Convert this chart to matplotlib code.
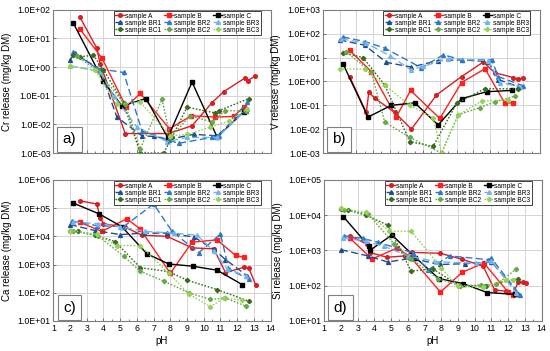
import matplotlib
matplotlib.use("Agg")
import matplotlib.pyplot as plt
from matplotlib.ticker import FixedLocator, FuncFormatter, NullLocator

plt.rcParams["font.family"] = ["Liberation Sans", "DejaVu Sans"]

SAMPLES = ["sample A", "sample B", "sample C",
           "sample BR1", "sample BR2", "sample BR3",
           "sample BC1", "sample BC2", "sample BC3"]

# ---- a) Cr release ----
cr_ph_A = [2.6, 3.6, 3.8, 5.3, 7.9, 9.3, 10.5, 11.2, 12.45, 12.65, 13.05]
cr_A = [54, 4.6, 1.3, 0.0048, 0.0048, 0.009, 0.058, 0.14, 0.41, 0.34, 0.48]
cr_ph_B = [2.6, 3.9, 5.35, 6.2, 7.95, 9.25, 10.7, 11.8, 12.4]
cr_B = [21, 2.1, 0.041, 0.12, 0.007, 0.02, 0.018, 0.019, 0.041]
cr_ph_C = [2.2, 4.0, 5.1, 6.55, 7.85, 9.3, 10.8, 12.4]
cr_C = [34, 0.32, 0.044, 0.08, 0.0034, 0.3, 0.0036, 0.028]
cr_ph_BR1 = [2.0, 2.3, 3.8, 4.8, 6.3, 7.0, 7.9, 9.4, 10.8, 12.5]
cr_BR1 = [1.8, 3.0, 0.8, 0.018, 0.004, 0.0038, 0.003, 0.0045, 0.004, 0.03]
cr_ph_BR2 = [2.2, 3.6, 5.2, 6.3, 7.9, 8.5, 10.5, 10.9, 12.6]
cr_BR2 = [3.4, 0.9, 0.65, 0.006, 0.0028, 0.0022, 0.0035, 0.0038, 0.06]
cr_ph_BR3 = [2.0, 3.8, 4.6, 6.0, 7.8, 9.0, 10.8, 12.6]
cr_BR3 = [1.1, 0.7, 0.1, 0.008, 0.0025, 0.0035, 0.0035, 0.035]
cr_ph_BC1 = [2.2, 2.6, 3.4, 4.0, 5.2, 6.2, 7.6, 8.1, 9.0, 10.7, 10.9, 12.7]
cr_BC1 = [2.6, 2.3, 2.6, 0.8, 0.055, 0.001, 0.001, 0.0036, 0.04, 0.025, 0.03, 0.08]
cr_ph_BC2 = [2.4, 3.6, 5.3, 6.2, 7.5, 8.0, 9.2, 10.5, 11.3, 12.5]
cr_BC2 = [2.4, 0.8, 0.05, 0.0014, 0.075, 0.0035, 0.02, 0.012, 0.03, 0.03]
cr_ph_BC3 = [2.0, 3.5, 4.8, 6.2, 8.0, 9.0, 10.4, 11.5, 12.6]
cr_BC3 = [1.1, 0.8, 0.05, 0.06, 0.004, 0.0045, 0.008, 0.013, 0.035]

# ---- b) V release ----
v_ph_A = [2.6, 3.6, 3.75, 4.1, 5.3, 6.3, 7.8, 9.3, 10.6, 11.3, 12.4, 12.7, 13.0]
v_A = [1.6, 0.05, 0.35, 0.2, 0.05, 0.01, 0.27, 1.6, 6.5, 2.3, 1.45, 1.25, 1.4]
v_ph_B = [2.6, 3.9, 5.4, 6.25, 8.0, 9.3, 10.7, 11.9, 12.4]
v_B = [20, 2.6, 0.033, 0.42, 0.028, 0.9, 3.4, 0.12, 0.13]
v_ph_C = [2.2, 3.7, 5.1, 6.5, 7.9, 9.3, 10.8, 12.3]
v_C = [5.6, 0.032, 0.1, 0.126, 0.015, 0.19, 0.37, 0.42]
v_ph_BR1 = [2.0, 3.5, 4.8, 6.3, 7.9, 9.3, 10.9, 11.5, 12.7]
v_BR1 = [55, 33, 6.3, 4.0, 7.5, 8.0, 6.8, 1.2, 0.6]
v_ph_BR2 = [2.2, 3.5, 4.7, 6.9, 8.2, 9.3, 11.1, 11.5, 13.0]
v_BR2 = [73, 47, 25, 3.7, 13, 8.1, 8.0, 1.6, 0.65]
v_ph_BR3 = [2.1, 3.6, 5.0, 6.3, 7.0, 8.5, 10.9, 11.6, 12.8]
v_BR3 = [61, 40, 12, 3.0, 4.3, 9.0, 7.5, 0.9, 0.6]
v_ph_BC1 = [2.2, 3.4, 4.7, 6.2, 7.6, 9.0, 10.7, 12.7]
v_BC1 = [16, 10, 0.72, 0.003, 0.0019, 0.12, 0.5, 0.48]
v_ph_BC2 = [2.4, 3.9, 4.7, 6.2, 8.1, 9.1, 10.4, 11.3, 12.5]
v_BC2 = [17, 2.5, 0.02, 0.0045, 0.001, 0.04, 0.08, 0.14, 0.24]
v_ph_BC3 = [2.0, 3.5, 4.7, 6.2, 7.6, 8.1, 9.1, 10.5, 12.1]
v_BC3 = [3.3, 3.3, 0.7, 0.1, 0.03, 0.001, 0.04, 0.15, 0.17]

# ---- c) Ca release ----
ca_ph_A = [2.6, 3.6, 3.8, 4.0, 5.3, 6.3, 7.8, 9.3, 10.6, 11.3, 12.4, 12.7, 13.1]
ca_A = [1.8e5, 1.4e5, 4.5e4, 2.8e4, 2.1e4, 1.1e4, 1.0e4, 3900, 3600, 520, 800, 750, 195]
ca_ph_B = [2.6, 3.9, 5.4, 6.2, 8.0, 9.3, 10.8, 11.9, 12.4]
ca_B = [3.1e4, 1.5e4, 4.2e4, 1.8e4, 490, 6200, 7500, 2100, 1800]
ca_ph_C = [2.2, 3.75, 5.1, 6.6, 7.9, 9.35, 10.8, 12.3]
ca_C = [1.5e5, 6.2e4, 2.2e4, 2400, 1050, 870, 630, 195]
ca_ph_BR1 = [2.0, 3.5, 5.0, 6.4, 7.8, 9.4, 10.6, 11.3, 12.6]
ca_BR1 = [2.6e4, 1.6e4, 1.15e4, 1.3e4, 1.3e4, 9500, 3500, 1500, 400]
ca_ph_BR2 = [2.1, 3.6, 5.2, 7.0, 8.1, 9.7, 11.0, 11.5, 12.7]
ca_BR2 = [3.5e4, 2.4e4, 2.2e4, 1.4e5, 1.5e4, 2600, 1.2e4, 700, 300]
ca_ph_BR3 = [2.2, 3.7, 5.0, 6.5, 8.2, 9.6, 10.6, 11.4, 12.5]
ca_BR3 = [3.2e4, 2.8e4, 2.2e4, 1.5e4, 1.3e4, 1.1e4, 3000, 700, 400]
ca_ph_BC1 = [2.0, 2.5, 3.5, 4.7, 6.2, 7.9, 9.0, 10.8, 12.7]
ca_BC1 = [1.6e4, 1.5e4, 1.1e4, 6500, 780, 560, 280, 130, 50]
ca_ph_BC2 = [2.2, 3.7, 5.2, 6.2, 7.6, 9.1, 10.4, 11.3, 12.5]
ca_BC2 = [1.6e4, 1.0e4, 2000, 580, 260, 100, 58, 65, 34]
ca_ph_BC3 = [2.0, 3.6, 4.8, 6.2, 7.9, 9.1, 10.4, 11.2, 12.3]
ca_BC3 = [1.6e4, 1.2e4, 4700, 4700, 500, 90, 32, 65, 55]

# ---- d) Si release ----
si_ph_A = [2.55, 3.55, 3.75, 4.75, 5.85, 6.25, 7.95, 9.25, 10.5, 11.2, 11.85, 12.3, 12.6, 12.9, 13.1]
si_A = [2600, 1500, 870, 640, 700, 880, 830, 560, 360, 76, 70, 58, 125, 125, 120]
si_ph_B = [2.55, 3.85, 5.35, 6.15, 7.95, 9.25, 10.55, 12.0, 12.3]
si_B = [2200, 570, 1170, 660, 66, 240, 440, 66, 55]
si_ph_C = [2.15, 3.65, 3.75, 5.05, 6.45, 7.85, 9.3, 10.75, 12.4]
si_C = [9000, 1350, 1020, 2750, 630, 160, 115, 64, 57]
si_ph_BR1 = [2.0, 3.6, 4.8, 6.2, 7.9, 9.4, 11.0, 12.6]
si_BR1 = [1050, 700, 470, 600, 400, 420, 480, 60]
si_ph_BR2 = [2.2, 3.3, 4.2, 6.3, 7.2, 8.5, 10.8, 11.0, 12.7]
si_BR2 = [2600, 2200, 1700, 860, 280, 700, 550, 600, 55]
si_ph_BR3 = [2.1, 3.5, 4.6, 6.0, 7.7, 10.1, 11.0, 12.5]
si_BR3 = [2300, 1800, 1300, 700, 480, 430, 500, 62]
si_ph_BC1 = [2.0, 2.4, 3.5, 4.8, 6.2, 7.5, 9.1, 10.7, 12.6]
si_BC1 = [15000, 14000, 10000, 5200, 260, 300, 98, 100, 160]
si_ph_BC2 = [2.2, 3.6, 5.2, 6.2, 7.8, 9.1, 10.4, 11.3, 12.5]
si_BC2 = [14000, 11000, 1500, 580, 160, 100, 105, 110, 300]
si_ph_BC3 = [2.0, 3.5, 4.9, 6.2, 8.0, 9.0, 10.5, 11.9, 12.3]
si_BC3 = [15500, 12000, 3500, 3500, 320, 95, 90, 150, 150]

STYLES = {
    "sample A": dict(color="#d81e22", ls="-", marker="o", ms=2.6),
    "sample B": dict(color="#ff1f1f", ls="-", marker="s", ms=2.8),
    "sample C": dict(color="#000000", ls="-", marker="s", ms=2.8),
    "sample BR1": dict(color="#1f4e8c", ls=(0, (5, 2.5)), marker="^", ms=2.8),
    "sample BR2": dict(color="#2f78c8", ls=(0, (5, 2.5)), marker="^", ms=2.8),
    "sample BR3": dict(color="#72b4ee", ls=(0, (5, 2.5)), marker="^", ms=2.8),
    "sample BC1": dict(color="#3b6a1e", ls=(0, (1.2, 1.2)), marker="D", ms=2.2),
    "sample BC2": dict(color="#68a84a", ls=(0, (1.2, 1.2)), marker="D", ms=2.2),
    "sample BC3": dict(color="#95d256", ls=(0, (1.2, 1.2)), marker="D", ms=2.2),
}

PANELS = [
    ("a)", "Cr release (mg/kg DM)", (1e-3, 1e2),
     [(cr_ph_A, cr_A), (cr_ph_B, cr_B), (cr_ph_C, cr_C),
      (cr_ph_BR1, cr_BR1), (cr_ph_BR2, cr_BR2), (cr_ph_BR3, cr_BR3),
      (cr_ph_BC1, cr_BC1), (cr_ph_BC2, cr_BC2), (cr_ph_BC3, cr_BC3)],
     [0.097, 0.564, 0.395, 0.408], False),
    ("b)", "V release (mg/kg DM)", (1e-3, 1e3),
     [(v_ph_A, v_A), (v_ph_B, v_B), (v_ph_C, v_C),
      (v_ph_BR1, v_BR1), (v_ph_BR2, v_BR2), (v_ph_BR3, v_BR3),
      (v_ph_BC1, v_BC1), (v_ph_BC2, v_BC2), (v_ph_BC3, v_BC3)],
     [0.587, 0.564, 0.395, 0.408], False),
    ("c)", "Ca release (mg/kg DM)", (1e1, 1e6),
     [(ca_ph_A, ca_A), (ca_ph_B, ca_B), (ca_ph_C, ca_C),
      (ca_ph_BR1, ca_BR1), (ca_ph_BR2, ca_BR2), (ca_ph_BR3, ca_BR3),
      (ca_ph_BC1, ca_BC1), (ca_ph_BC2, ca_BC2), (ca_ph_BC3, ca_BC3)],
     [0.097, 0.0855, 0.395, 0.402], True),
    ("d)", "Si release (mg/kg DM)", (1e1, 1e5),
     [(si_ph_A, si_A), (si_ph_B, si_B), (si_ph_C, si_C),
      (si_ph_BR1, si_BR1), (si_ph_BR2, si_BR2), (si_ph_BR3, si_BR3),
      (si_ph_BC1, si_BC1), (si_ph_BC2, si_BC2), (si_ph_BC3, si_BC3)],
     [0.5896, 0.0855, 0.395, 0.402], True),
]

# legend is filled column-wise, so reorder to read row-wise
LEG_ORDER = ["sample A", "sample BR1", "sample BC1",
             "sample B", "sample BR2", "sample BC2",
             "sample C", "sample BR3", "sample BC3"]

fig = plt.figure(figsize=(5.5, 3.51), dpi=100)

for tag, ylabel, ylim, series, rect, show_x in PANELS:
    ax = fig.add_axes(rect)
    lines = {}
    for name, (ph, val) in zip(SAMPLES, series):
        st = STYLES[name]
        (ln,) = ax.plot(ph, val, color=st["color"], linestyle=st["ls"], lw=1.0,
                        marker=st["marker"], ms=st["ms"], label=name)
        lines[name] = ln
    ax.set_yscale("log")
    ax.set_ylim(*ylim)
    ax.set_xlim(1, 14)
    ax.xaxis.set_major_locator(FixedLocator(range(1, 15)))
    ax.xaxis.set_minor_locator(FixedLocator([x + 0.5 for x in range(1, 14)]))
    ax.yaxis.set_minor_locator(NullLocator())
    ax.yaxis.set_major_formatter(FuncFormatter(lambda v, p: "{:.1E}".format(v)))
    ax.grid(True, which="major", color="#d4d4d4", lw=0.7)
    ax.set_axisbelow(True)
    ax.tick_params(axis="both", which="both", direction="in", labelsize=6.3,
                   length=2, width=0.6, color="#606060", pad=2)
    ax.tick_params(axis="x", which="minor", length=1.5)
    for sp in ax.spines.values():
        sp.set_color("#7f7f7f")
        sp.set_linewidth(0.8)
    ax.set_ylabel(ylabel, fontsize=7, labelpad=4)
    if show_x:
        ax.set_xlabel("pH", fontsize=7, labelpad=2)
    else:
        ax.tick_params(axis="x", labelbottom=False)

    # panel tag in a small box, lower left
    ax.text(0.075, 0.095, tag, transform=ax.transAxes, fontsize=11,
            ha="center", va="center",
            bbox=dict(boxstyle="square,pad=0.35", fc="white", ec="#7f7f7f", lw=0.8))

    leg = ax.legend([lines[n] for n in LEG_ORDER], LEG_ORDER, ncol=3, fontsize=4.8,
                    loc="upper right", bbox_to_anchor=(0.955, 0.99),
                    frameon=True, fancybox=False, handlelength=1.35,
                    handletextpad=0.15, columnspacing=0.45, labelspacing=0.0,
                    borderpad=0.2, borderaxespad=0.0, framealpha=1)
    leg.get_frame().set_edgecolor("#404040")
    leg.get_frame().set_linewidth(0.7)

fig.savefig("out.png", dpi=100)
